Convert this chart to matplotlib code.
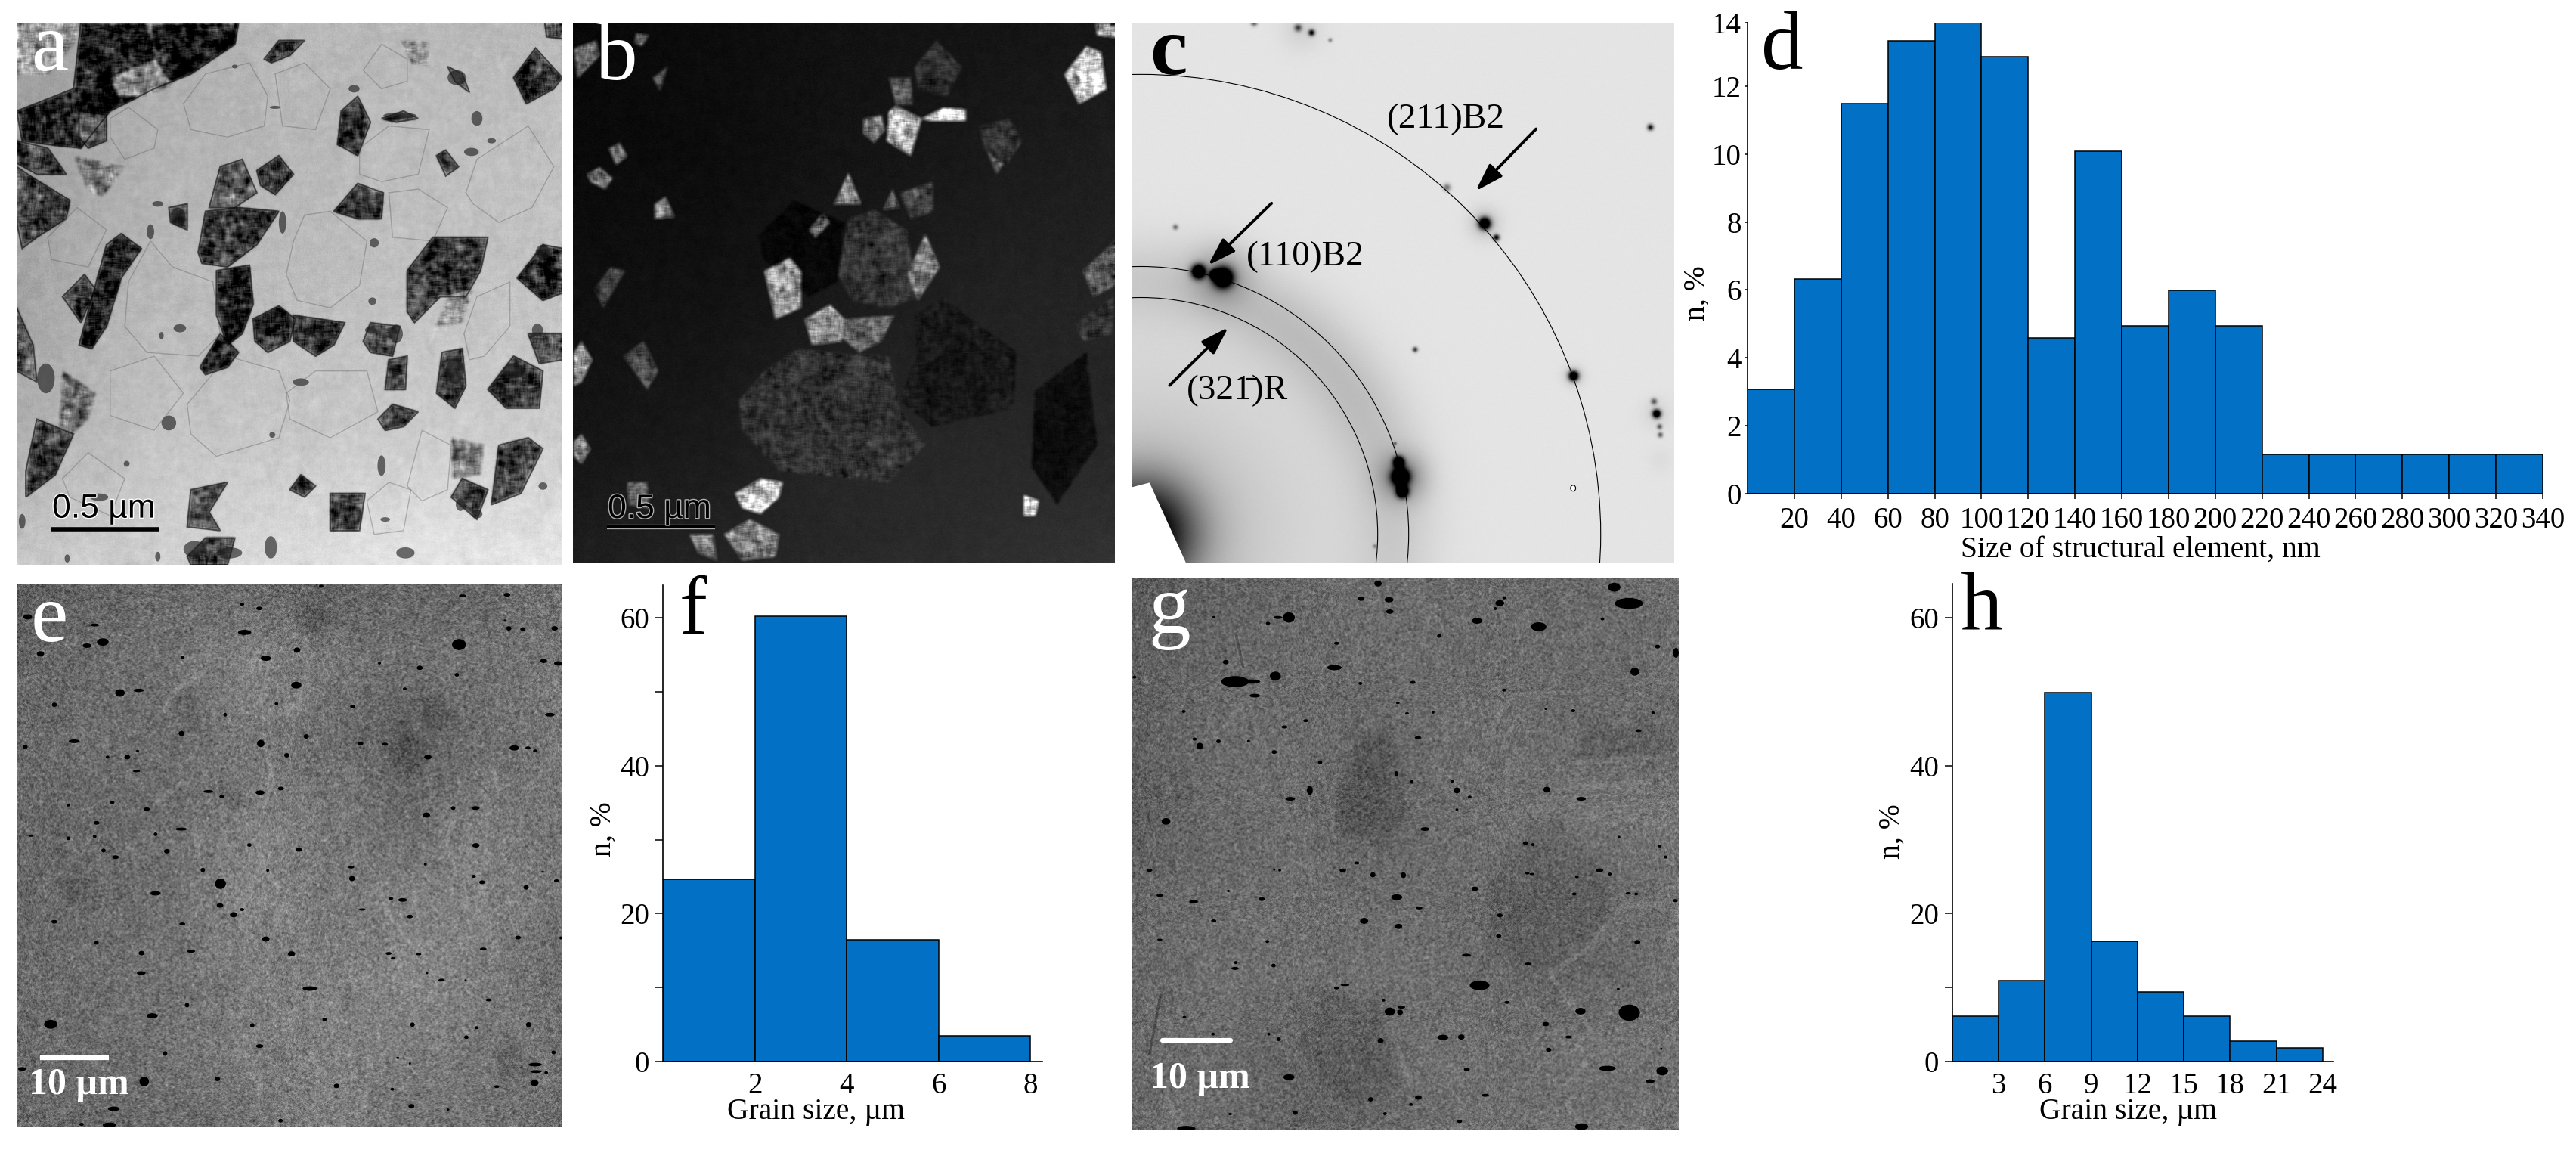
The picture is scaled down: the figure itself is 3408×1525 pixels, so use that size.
import numpy as np
import matplotlib
matplotlib.use("Agg")
import matplotlib.pyplot as plt
from matplotlib.path import Path
from matplotlib.patches import Ellipse
import matplotlib.patheffects as pe

# ---------- histogram data ----------
D_EDGES = [0, 20, 40, 60, 80, 100, 120, 140, 160, 180, 200, 220, 240, 260, 280, 300, 320, 340]
D_VALUES = [3.07, 6.32, 11.48, 13.33, 13.87, 12.86, 4.58, 10.09, 4.94, 5.98, 4.94,
            1.15, 1.15, 1.15, 1.15, 1.15, 1.15]
D_TICK_LABELS = ["20", "40", "60", "80", "100", "120", "140", "160", "180", "200",
                 "220", "240", "260", "280", "300", "320", "340"]
F_EDGES = [0, 2, 4, 6, 8]
F_VALUES = [24.6, 60.2, 16.5, 3.5]
H_EDGES = [0, 3, 6, 9, 12, 15, 18, 21, 24]
H_VALUES = [6.1, 10.9, 49.9, 16.3, 9.4, 6.1, 2.8, 1.85]
BAR_COLOR = "#0270C4"

# ---------- micrograph sketches (grey levels and outlines) ----------
A_BASE = [[.62, .66, .72, .72, .72], [.62, .70, .72, .74, .76], [.64, .72, .74, .76, .76],
          [.68, .76, .78, .80, .80], [.78, .82, .86, .90, .90]]
A_GRAINS = [
    ([(220, 62), (650, 62), (640, 120), (520, 200), (420, 240), (300, 300), (220, 400), (130, 390), (60, 380), (45, 300), (200, 240)], .10),
    ([(45, 62), (220, 62), (200, 120), (130, 200), (45, 200)], .60),
    ([(300, 210), (420, 160), (470, 230), (400, 260), (320, 260)], .55),
    ([(1400, 210), (1460, 130), (1533, 210), (1510, 240), (1435, 280)], .20),
    ([(1485, 62), (1533, 62), (1533, 105), (1490, 100)], .25),
    ([(720, 160), (760, 110), (830, 110), (790, 150), (740, 170)], .22),
    ([(930, 300), (975, 260), (1010, 330), (975, 420), (920, 390)], .20),
    ([(700, 460), (760, 420), (800, 470), (750, 525), (710, 500)], .20),
    ([(910, 570), (975, 495), (1045, 520), (1040, 590), (975, 590)], .20),
    ([(1190, 420), (1215, 405), (1250, 450), (1215, 475)], .25),
    ([(540, 680), (560, 570), (650, 560), (760, 570), (700, 660), (620, 720), (550, 710)], .22),
    ([(570, 560), (600, 450), (660, 430), (700, 520), (640, 560)], .38),
    ([(590, 730), (680, 715), (690, 820), (660, 900), (620, 930), (590, 850)], .10),
    ([(560, 1010), (545, 990), (600, 900), (650, 950), (620, 990)], .20),
    ([(690, 860), (760, 825), (805, 860), (790, 920), (730, 950), (695, 920)], .15),
    ([(800, 850), (940, 870), (910, 930), (860, 960), (800, 920)], .20),
    ([(215, 930), (290, 660), (330, 630), (385, 670), (330, 750), (290, 880), (250, 940)], .10),
    ([(170, 800), (230, 740), (260, 780), (220, 870)], .25),
    ([(1110, 840), (1110, 730), (1180, 640), (1330, 640), (1310, 730), (1270, 800), (1200, 800), (1130, 870)], .25),
    ([(1180, 900), (1220, 800), (1290, 780), (1260, 870), (1200, 880)], .62),
    ([(1410, 750), (1480, 660), (1533, 670), (1533, 790), (1480, 810)], .12),
    ([(1190, 1060), (1205, 950), (1260, 940), (1270, 1040), (1240, 1100)], .20),
    ([(1050, 1050), (1060, 970), (1110, 960), (1105, 1050)], .25),
    ([(990, 920), (1010, 870), (1090, 880), (1070, 960), (1010, 950)], .32),
    ([(1030, 1130), (1070, 1090), (1140, 1110), (1100, 1150), (1050, 1160)], .25),
    ([(1340, 1360), (1360, 1200), (1440, 1180), (1480, 1210), (1420, 1330)], .28),
    ([(1330, 1050), (1400, 960), (1480, 1000), (1470, 1100), (1380, 1100)], .20),
    ([(1440, 900), (1533, 900), (1533, 970), (1470, 980)], .28),
    ([(900, 1330), (995, 1330), (980, 1430), (900, 1430)], .25),
    ([(70, 1340), (70, 1270), (100, 1130), (200, 1170), (150, 1280)], .20),
    ([(160, 1150), (170, 1000), (260, 1060), (240, 1130), (200, 1170)], .45),
    ([(790, 1320), (820, 1280), (860, 1310), (830, 1340)], .20),
    ([(510, 1420), (520, 1320), (620, 1300), (570, 1380), (600, 1430)], .30),
    ([(45, 600), (45, 450), (90, 480), (190, 540), (180, 590), (100, 640), (60, 670)], .25),
    ([(45, 440), (45, 380), (130, 400), (180, 470), (100, 470)], .30),
    ([(200, 420), (340, 450), (280, 530), (235, 510)], .48),
    ([(215, 300), (290, 310), (290, 380), (240, 400), (215, 370)], .32),
    ([(1095, 110), (1170, 110), (1170, 180), (1120, 170)], .55),
    ([(1220, 180), (1260, 200), (1280, 250), (1240, 220)], .28),
    ([(1040, 320), (1100, 300), (1140, 320), (1080, 330)], .25),
    ([(1230, 1180), (1320, 1200), (1310, 1280), (1235, 1290)], .48),
    ([(45, 1000), (45, 830), (90, 930), (100, 1030)], .32),
    ([(510, 1500), (560, 1450), (640, 1450), (620, 1522), (520, 1522)], .25),
    ([(1230, 1340), (1260, 1290), (1330, 1320), (1300, 1400)], .28),
    ([(460, 560), (510, 550), (510, 620), (465, 600)], .25),
]
A_OUTLINES = [
    [(500, 280), (560, 200), (680, 170), (730, 260), (720, 340), (620, 370), (520, 350), (500, 280)],
    [(800, 650), (830, 580), (900, 570), (1000, 650), (980, 770), (900, 830), (810, 810), (780, 740), (800, 650)],
    [(510, 1090), (620, 960), (760, 1000), (790, 1080), (760, 1180), (590, 1230), (520, 1170), (510, 1090)],
    [(1270, 520), (1300, 430), (1440, 340), (1510, 450), (1450, 560), (1360, 600), (1290, 550), (1270, 520)],
    [(300, 320), (350, 290), (430, 350), (420, 400), (340, 430), (300, 370), (300, 320)],
    [(990, 190), (1040, 120), (1110, 160), (1110, 220), (1040, 240), (990, 190)],
    [(350, 760), (410, 650), (470, 720), (580, 760), (600, 900), (540, 960), (400, 950), (340, 880), (350, 760)],
    [(1110, 1310), (1150, 1160), (1230, 1200), (1220, 1320), (1150, 1350), (1110, 1310)],
    [(1265, 900), (1300, 800), (1390, 760), (1390, 880), (1320, 960), (1280, 970), (1265, 900)],
    [(780, 1060), (860, 1000), (1000, 1000), (1030, 1110), (900, 1180), (790, 1130), (780, 1060)],
    [(170, 1290), (240, 1220), (340, 1290), (300, 1390), (190, 1340), (170, 1290)],
    [(750, 200), (830, 170), (900, 240), (860, 350), (770, 340), (750, 200)],
    [(980, 400), (1060, 340), (1170, 350), (1140, 470), (1040, 490), (980, 470), (980, 400)],
    [(1060, 520), (1140, 510), (1220, 560), (1180, 650), (1070, 640), (1060, 520)],
    [(1060, 1300), (1120, 1320), (1100, 1430), (1020, 1440), (1000, 1350), (1060, 1300)],
    [(300, 1000), (420, 960), (500, 1060), (420, 1160), (300, 1120), (300, 1000)],
    [(130, 640), (210, 560), (290, 620), (240, 720), (140, 700), (130, 640)],
]
A_SPECKS = [(1300, 320, 30, 40), (1285, 410, 40, 22), (1245, 210, 50, 40), (1090, 312, 90, 16), (750, 290, 30, 8),
    (1020, 655, 25, 25), (1480, 680, 40, 40), (820, 1030, 44, 20), (345, 1250, 16, 16), (485, 585, 40, 50),
    (430, 550, 30, 15), (410, 625, 20, 40), (490, 885, 34, 22), (440, 905, 12, 20), (1040, 1255, 22, 55),
    (1300, 1385, 30, 24), (1255, 1360, 25, 34), (738, 1475, 34, 60), (1105, 1490, 50, 30), (625, 1490, 70, 30),
    (530, 1480, 60, 44), (460, 1140, 40, 40), (742, 1172, 16, 16), (1015, 812, 22, 20), (60, 1405, 18, 40),
    (183, 1505, 14, 22), (1080, 900, 36, 50), (1010, 890, 30, 20), (1240, 1000, 50, 70), (125, 1020, 48, 80),
    (640, 180, 16, 10), (965, 240, 30, 20), (1340, 380, 24, 14), (770, 600, 20, 60), (1050, 1400, 26, 12),
    (270, 1340, 50, 20), (1480, 1310, 24, 20), (430, 1500, 14, 26), (1400, 1000, 60, 40), (1465, 890, 30, 34)]

B_BASE = [[.03, .05, .07, .08, .09], [.04, .05, .08, .10, .12], [.06, .07, .10, .13, .14],
          [.08, .10, .15, .15, .15], [.12, .14, .16, .18, .20]]
B_GRAINS = [
    ([(490, 1080), (560, 1000), (650, 940), (740, 950), (900, 960), (930, 1100), (1000, 1200), (900, 1300), (600, 1270), (500, 1160)], .19),
    ([(760, 740), (790, 590), (860, 565), (950, 620), (980, 800), (900, 830), (800, 810)], .20),
    ([(540, 640), (640, 540), (780, 600), (760, 760), (680, 800), (560, 700)], .03),
    ([(970, 850), (1050, 800), (1110, 850), (1250, 950), (1240, 1100), (1020, 1150), (930, 1080), (980, 950)], .09),
    ([(1300, 1050), (1440, 950), (1470, 1200), (1360, 1360), (1290, 1260)], .05),
    ([(1380, 200), (1440, 125), (1480, 140), (1495, 240), (1420, 280)], .78),
    ([(1465, 62), (1517, 62), (1517, 100), (1470, 95)], .70),
    ([(900, 300), (920, 285), (990, 320), (960, 420), (895, 380)], .70),
    ([(990, 320), (1050, 290), (1110, 295), (1110, 325), (1010, 325)], .85),
    ([(830, 320), (880, 310), (890, 350), (860, 385), (830, 360)], .42),
    ([(900, 210), (960, 210), (965, 280), (920, 285)], .30),
    ([(750, 550), (790, 465), (825, 550)], .50),
    ([(260, 550), (290, 530), (315, 585), (260, 590)], .50),
    ([(680, 620), (720, 575), (740, 600), (700, 640)], .45),
    ([(885, 565), (910, 510), (930, 560)], .40),
    ([(930, 520), (1020, 490), (1020, 570), (960, 590)], .25),
    ([(560, 730), (630, 695), (660, 730), (660, 830), (590, 860)], .60),
    ([(670, 860), (740, 820), (780, 860), (770, 920), (690, 930)], .55),
    ([(780, 860), (915, 850), (880, 920), (820, 950), (770, 910)], .40),
    ([(950, 740), (1000, 630), (1040, 720), (980, 810)], .45),
    ([(480, 1330), (550, 1290), (610, 1300), (600, 1340), (550, 1385), (500, 1370)], .80),
    ([(1270, 1335), (1310, 1350), (1300, 1390), (1270, 1390)], .97),
    ([(450, 1440), (520, 1400), (600, 1440), (590, 1500), (500, 1510)], .55),
    ([(355, 1440), (420, 1440), (430, 1510), (380, 1490)], .50),
    ([(40, 950), (60, 920), (90, 970), (60, 1030), (40, 1040)], .60),
    ([(40, 1190), (60, 1170), (85, 1210), (60, 1250), (40, 1230)], .55),
    ([(40, 130), (100, 110), (110, 150), (50, 210)], .42),
    ([(75, 470), (110, 450), (145, 480), (125, 510), (85, 490)], .45),
    ([(135, 400), (165, 385), (185, 420), (155, 445)], .50),
    ([(1170, 410), (1220, 430), (1195, 470)], .40),
    ([(175, 960), (230, 920), (270, 1000), (240, 1050)], .32),
    ([(1430, 730), (1517, 650), (1517, 770), (1460, 800)], .36),
    ([(95, 780), (140, 720), (180, 730), (120, 830)], .24),
    ([(185, 1300), (240, 1300), (245, 1370), (190, 1360)], .40),
    ([(970, 180), (1030, 110), (1100, 180), (1060, 260), (980, 240)], .18),
    ([(1150, 340), (1230, 320), (1265, 380), (1220, 450), (1160, 400)], .20),
    ([(210, 90), (245, 95), (225, 125), (205, 115)], .38),
    ([(255, 210), (295, 180), (275, 245)], .32),
    ([(1410, 870), (1470, 830), (1517, 800), (1510, 900), (1430, 920)], .20),
]

E_BASE = [[.37, .40, .41, .41, .37, .41, .41, .45],
          [.39, .42, .45, .51, .47, .43, .45, .47],
          [.41, .43, .42, .47, .43, .37, .43, .47],
          [.40, .41, .43, .49, .47, .41, .49, .45],
          [.41, .42, .44, .53, .47, .49, .51, .45],
          [.42, .43, .45, .49, .49, .53, .49, .43],
          [.42, .43, .45, .49, .51, .49, .47, .45],
          [.41, .41, .43, .45, .51, .45, .45, .41]]
E_SHADES = [
    ([(1060, 470), (1110, 420), (1180, 470), (1130, 540), (1080, 530)], -.06),
    ([(580, 580), (640, 550), (700, 620), (620, 640)], -.05),
    ([(170, 830), (240, 820), (250, 880), (170, 880)], -.05),
    ([(1340, 1300), (1390, 1240), (1450, 1340), (1380, 1390)], -.06),
    ([(830, 80), (910, 100), (870, 170), (810, 130)], -.06),
    ([(1130, 350), (1190, 330), (1270, 400), (1170, 430)], -.05),
    ([(470, 320), (530, 320), (560, 400), (480, 400)], -.05),
    ([(950, 1130), (990, 1120), (980, 1170), (920, 1160)], -.05),
]
E_STREAKS = [
    [(720, 300), (820, 300), (815, 350), (760, 380), (710, 350), (720, 300)],
    [(730, 480), (740, 560), (720, 630)], [(700, 720), (720, 800), (760, 850)],
    [(1240, 810), (1220, 720), (1240, 660)], [(1340, 520), (1360, 580)],
    [(450, 370), (470, 320), (560, 260)], [(430, 620), (500, 560)],
    [(850, 1130), (850, 1180)], [(760, 900), (750, 960)], [(710, 1350), (710, 1420)],
    [(850, 1300), (870, 1350)], [(1040, 860), (1060, 920), (1120, 1000), (1180, 1000)],
    [(1000, 1400), (990, 1450)], [(530, 680), (540, 760)], [(1200, 1100), (1170, 1150)],
]
E_PORES = [(280, 183, 32, 20), (667, 157, 36, 14), (1252, 190, 38, 30), (327, 321, 26, 20), (378, 314, 28, 9),
    (808, 300, 28, 18), (148, 353, 14, 12), (237, 193, 24, 12), (258, 137, 24, 8), (110, 215, 20, 14),
    (75, 115, 24, 14), (711, 458, 20, 20), (202, 452, 30, 10), (68, 467, 14, 12), (495, 431, 16, 14),
    (347, 495, 16, 12), (372, 533, 20, 6), (568, 588, 26, 8), (709, 591, 24, 12), (766, 580, 16, 10),
    (400, 636, 16, 10), (263, 673, 16, 10), (494, 690, 32, 8), (186, 715, 10, 10), (282, 748, 12, 10),
    (315, 766, 18, 10), (455, 750, 16, 12), (680, 733, 12, 10), (815, 746, 18, 10), (553, 801, 12, 12),
    (601, 838, 30, 28), (424, 864, 28, 12), (600, 897, 18, 12), (637, 922, 20, 14), (660, 908, 12, 8),
    (148, 941, 16, 10), (497, 947, 16, 8), (725, 988, 20, 14), (263, 998, 12, 10), (521, 1021, 22, 8),
    (386, 1026, 16, 12), (795, 1028, 20, 14), (385, 1080, 24, 10), (845, 1122, 40, 12), (510, 1167, 12, 12),
    (415, 1196, 30, 14), (138, 1219, 36, 24), (688, 1222, 12, 12), (708, 1278, 20, 10), (450, 1298, 12, 12),
    (393, 1374, 26, 26), (593, 1367, 14, 12), (310, 1448, 32, 12), (298, 1492, 36, 14), (918, 1386, 16, 12),
    (1122, 1441, 16, 12), (1458, 1378, 22, 16), (1460, 1328, 36, 10), (1462, 1347, 30, 8), (1442, 1220, 14, 14),
    (1272, 1254, 12, 10), (1125, 1220, 12, 12), (885, 1206, 12, 10), (1205, 1099, 16, 8), (1333, 1153, 16, 8),
    (1118, 927, 16, 10), (1098, 882, 24, 10), (1066, 878, 12, 8), (960, 824, 16, 14), (958, 793, 16, 8),
    (1163, 652, 20, 14), (1298, 734, 20, 12), (1297, 633, 22, 10), (1236, 633, 12, 10), (1167, 495, 20, 12),
    (983, 458, 16, 10), (1050, 460, 16, 8), (835, 439, 14, 12), (782, 490, 14, 12), (1403, 470, 26, 14),
    (1500, 380, 26, 10), (1483, 234, 18, 12), (1523, 241, 24, 12), (1145, 253, 16, 12), (1513, 146, 18, 12),
    (1426, 148, 14, 10), (1388, 146, 14, 12), (1383, 55, 18, 10), (1262, 58, 20, 8), (1315, 834, 16, 10),
    (1435, 848, 14, 12), (1413, 984, 16, 10), (1292, 818, 12, 8), (1318, 1015, 18, 8), (1142, 1029, 14, 6),
    (725, 227, 28, 14), (810, 205, 18, 14), (498, 225, 10, 8), (962, 358, 14, 10), (754, 350, 10, 8),
    (614, 380, 10, 10), (1104, 310, 10, 8), (876, 32, 12, 8), (660, 81, 12, 8), (707, 92, 16, 10),
    (1035, 240, 8, 8), (1246, 272, 12, 10), (1440, 470, 14, 8), (1460, 478, 12, 8), (1378, 125, 8, 6),
    (1060, 1027, 16, 8), (1072, 1040, 12, 6), (1355, 1388, 14, 8), (1510, 1295, 12, 10), (1490, 1350, 10, 8),
    (1300, 1228, 10, 8), (1160, 785, 8, 8), (730, 802, 8, 8), (1200, 1100, 10, 6), (988, 908, 18, 6),
    (1222, 1450, 8, 6), (60, 1340, 22, 10), (222, 1490, 12, 8), (765, 1480, 12, 10), (186, 625, 10, 8),
    (306, 618, 12, 8), (84, 708, 14, 6), (258, 710, 10, 8), (293, 495, 10, 8), (375, 478, 8, 6),
    (424, 704, 10, 10), (605, 602, 14, 8), (1070, 1395, 10, 8), (1085, 1310, 8, 6), (1118, 1325, 6, 6),
    (1165, 1080, 6, 6), (1270, 1100, 6, 6), (1530, 985, 8, 8), (1518, 830, 14, 8), (1480, 806, 10, 4)]

G_BASE = [[.34, .38, .40, .43, .42, .42, .42, .42],
          [.38, .40, .42, .42, .42, .42, .42, .44],
          [.36, .42, .42, .39, .43, .43, .41, .42],
          [.36, .40, .43, .37, .42, .44, .46, .46],
          [.40, .42, .43, .42, .42, .40, .40, .44],
          [.41, .43, .43, .44, .43, .40, .40, .44],
          [.42, .43, .40, .40, .44, .43, .45, .44],
          [.42, .43, .39, .40, .44, .44, .44, .44]]
G_SHADES = [
    ([(650, 450), (730, 430), (760, 480), (750, 560), (800, 640), (720, 750), (600, 700), (590, 600), (640, 520)], -.05),
    ([(1100, 680), (1210, 660), (1330, 850), (1340, 930), (1260, 1010), (1170, 1090), (1020, 1050), (1000, 880), (1070, 770)], -.035),
    ([(540, 1130), (700, 1170), (750, 1290), (760, 1420), (620, 1450), (530, 1350), (500, 1270)], -.04),
    ([(1220, 490), (1300, 430), (1510, 420), (1510, 500), (1290, 515)], -.04),
]
G_STREAKS = [
    [(320, 170), (340, 260)], [(290, 420), (350, 340)], [(850, 100), (830, 200)],
    [(1010, 440), (1060, 350)], [(1180, 1090), (1290, 1020), (1370, 910), (1510, 900)],
    [(1060, 520), (1060, 620)], [(590, 560), (580, 700)], [(750, 1260), (800, 1400)],
    [(1220, 1440), (1260, 1500)], [(1220, 1400), (1290, 1310)], [(1250, 520), (1510, 500)],
    [(1180, 1100), (1300, 1260)], [(130, 1430), (170, 1500)], [(1220, 590), (1450, 570)],
]
G_DARK_LINES = [[(115, 1150), (85, 1310)], [(320, 170), (340, 260)]]
G_PORES = [(318, 300, 76, 30), (362, 300, 50, 12), (465, 126, 32, 28), (428, 285, 30, 24), (372, 338, 28, 10),
    (589, 262, 40, 14), (708, 34, 20, 16), (738, 78, 24, 14), (740, 110, 20, 12), (662, 75, 18, 12),
    (978, 135, 28, 16), (1040, 87, 24, 16), (1146, 151, 42, 24), (1352, 44, 34, 24), (1392, 88, 76, 30),
    (1408, 273, 24, 22), (1520, 222, 16, 26), (1470, 205, 14, 10), (222, 475, 18, 18), (130, 679, 24, 18),
    (469, 618, 26, 10), (522, 595, 16, 24), (550, 519, 12, 10), (425, 491, 14, 10), (453, 423, 16, 8),
    (511, 406, 14, 8), (273, 462, 12, 10), (836, 700, 24, 10), (923, 595, 18, 16), (1168, 593, 18, 16),
    (1262, 618, 26, 10), (800, 572, 10, 10), (1312, 812, 20, 10), (777, 825, 14, 16), (694, 824, 14, 14),
    (612, 812, 18, 10), (759, 885, 30, 16), (670, 949, 22, 16), (764, 964, 20, 14), (972, 862, 18, 12),
    (1040, 934, 16, 10), (1037, 990, 14, 10), (949, 1042, 24, 8), (985, 1124, 54, 26), (1117, 1066, 20, 8),
    (1260, 1194, 28, 18), (1393, 1198, 58, 44), (1165, 1229, 18, 12), (1173, 1299, 14, 12), (1228, 1264, 18, 8),
    (1333, 1349, 46, 14), (1483, 1356, 32, 24), (1450, 1384, 24, 10), (1415, 1007, 16, 12), (1418, 433, 16, 8),
    (1240, 379, 12, 8), (885, 1265, 30, 14), (935, 1264, 18, 14), (740, 1195, 28, 22), (768, 1197, 16, 14),
    (772, 1183, 20, 8), (465, 1373, 30, 16), (950, 1352, 16, 10), (818, 1428, 18, 12), (688, 1433, 14, 12),
    (482, 1469, 14, 12), (185, 1512, 50, 14), (1263, 1507, 36, 18), (930, 1493, 14, 8), (1000, 1422, 20, 8),
    (318, 1078, 20, 8), (320, 1062, 10, 8), (423, 1070, 12, 10), (391, 890, 18, 10), (205, 897, 24, 10),
    (113, 880, 18, 8), (85, 812, 16, 8), (260, 949, 14, 8), (660, 305, 10, 8), (803, 302, 14, 8),
    (875, 176, 12, 10), (595, 196, 14, 8), (293, 247, 16, 12), (1052, 323, 12, 8), (817, 452, 18, 8),
    (1476, 746, 10, 8), (1492, 776, 10, 8), (1110, 738, 14, 10), (1115, 820, 12, 6), (1243, 876, 12, 8),
    (1412, 876, 10, 8), (1518, 894, 14, 8), (1060, 1170, 14, 8), (1250, 830, 10, 6), (435, 126, 24, 8),
    (408, 142, 12, 8), (44, 288, 10, 8), (208, 456, 12, 8), (178, 381, 10, 8), (355, 461, 8, 6),
    (260, 125, 8, 6), (1028, 102, 8, 8), (1052, 73, 10, 8), (1320, 130, 10, 8), (1165, 374, 6, 6),
    (1458, 385, 10, 8), (858, 383, 8, 8), (787, 386, 10, 6), (762, 358, 10, 6), (758, 550, 10, 14),
    (958, 613, 10, 8), (923, 647, 8, 6), (910, 570, 10, 8), (1130, 742, 8, 8), (1128, 822, 14, 6),
    (650, 792, 14, 8), (820, 914, 18, 8), (440, 812, 8, 6), (425, 810, 6, 6), (300, 868, 8, 6),
    (406, 1005, 10, 8), (113, 1000, 14, 6), (595, 1131, 14, 8), (618, 1123, 24, 6), (723, 1164, 10, 8),
    (1363, 1134, 8, 6), (410, 1256, 8, 8), (437, 1270, 12, 10), (258, 1256, 10, 8), (180, 1210, 10, 6),
    (715, 1274, 16, 14), (798, 1447, 10, 8), (727, 1472, 10, 8), (305, 1473, 10, 6), (1480, 1296, 6, 6),
    (1365, 722, 8, 8), (1390, 874, 14, 6), (1340, 822, 10, 8)]

C_SPOTS = [(218, 732, 13, .95), (285, 748, 18, .98), (262, 740, 8, .9), (1000, 602, 11, .95), (1243, 1013, 9, .9),
    (770, 1285, 16, .98), (775, 1325, 11, .95), (765, 1245, 10, .9), (1470, 1115, 8, .85), (1453, 343, 6, .55),
    (1032, 640, 6, .6), (897, 505, 7, .3), (810, 942, 5, .45), (155, 612, 5, .3), (490, 75, 7, .4),
    (527, 88, 6, .6), (578, 108, 4, .25), (1463, 1082, 6, .35), (1478, 1150, 5, .35), (1480, 1172, 5, .35),
    (370, 62, 6, .35), (700, 1472, 4, .2), (755, 1195, 3, .3)]
C_HALOS = [(280, 745, 55, .22), (1000, 602, 30, .14), (775, 1285, 45, .30), (1243, 1013, 20, .12),
           (500, 80, 40, .07), (1470, 1115, 30, .06), (1480, 1240, 25, .03)]
C_BEAM_STOP = [(38, 1312), (85, 1300), (185, 1517), (38, 1517)]
C_RINGS = [608, 354, 313]
C_ARROWS = [((1140, 348), (975, 515)), ((418, 548), (245, 715)), ((140, 1038), (300, 882))]

W, H = 3408, 1525
plt.rcParams["font.family"] = ["Liberation Serif", "DejaVu Serif"]
fig = plt.figure(figsize=(W / 100, H / 100), dpi=100, facecolor="white")


def frame(l, t, r, b):
    return [l / W, 1 - b / H, (r - l) / W, (b - t) / H]


def blur(a, r):
    p = np.pad(a, r + 1, mode="edge")
    k = 2 * r + 1
    c = np.cumsum(p, axis=0)
    p = (c[k:, :] - c[:-k, :]) / k
    c = np.cumsum(p, axis=1)
    p = (c[:, k:] - c[:, :-k]) / k
    return p[:a.shape[0], :a.shape[1]]


def hash_grain(w, h, s):
    j, i = np.mgrid[0:h, 0:w]
    v = np.sin(i * 12.9898 + j * 78.233 + s) * 43758.5453
    return v - np.floor(v) - .5


def upscale(m, w, h):
    m = np.array(m, float)
    ys = np.linspace(0, m.shape[0] - 1, h)
    xs = np.linspace(0, m.shape[1] - 1, w)
    tmp = np.array([np.interp(xs, np.arange(m.shape[1]), row) for row in m])
    return np.array([np.interp(ys, np.arange(m.shape[0]), col) for col in tmp.T]).T


def raster(ext, w, h, base, polys, add=False):
    zl, zr, zt, zb = ext
    xs = np.linspace(zl, zr, w)
    ys = np.linspace(zt, zb, h)
    X, Y = np.meshgrid(xs, ys)
    pts = np.c_[X.ravel(), Y.ravel()]
    f = upscale(base, w, h)
    touched = np.zeros((h, w))
    for pg, val in polys:
        mask = Path(pg).contains_points(pts).reshape(h, w)
        if add:
            f = f + mask * val
        else:
            f[mask] = val
            touched[mask] = 1
    return f, touched


def panel(box, ext, img):
    ax = fig.add_axes(frame(*box))
    ax.imshow(img, cmap="gray", vmin=0, vmax=1, extent=(ext[0], ext[1], ext[3], ext[2]),
              aspect="auto", interpolation="bilinear")
    ax.set_xlim(ext[0], ext[1])
    ax.set_ylim(ext[3], ext[2])
    ax.axis("off")
    return ax


def draw_pores(ax, pores):
    for x, y, pw, ph in pores:
        ax.add_patch(Ellipse((x, y), pw, ph, fc="black", ec="none", zorder=3))


def mottle(w, h, s):
    return blur(hash_grain(w, h, s), 3) * 6 + blur(hash_grain(w, h, s + 1.7), 7) * 13


def letter(x, y, s, color="black", weight="normal"):
    fig.text(x / W, 1 - y / H, s, color=color, fontsize=80, fontweight=weight, va="baseline", ha="left", zorder=10)


# ---- a ----
box_a, ext_a = (22, 30, 744, 747), (45, 1533, 62, 1522)
img, t = raster(ext_a, 720, 715, A_BASE, A_GRAINS)
img = blur(img, 2) + mottle(720, 715, 1.3) * (.035 + .30 * blur(t, 2)) + .045 * hash_grain(720, 715, 2.1)
ax = panel(box_a, ext_a, np.clip(img, 0, 1))
for ol in A_OUTLINES:
    ax.plot(*zip(*ol), color="#555555", lw=1.0, alpha=.35)
for pg, val in A_GRAINS:
    if val < .4:
        ax.fill(*zip(*pg), fill=False, ec="black", lw=1.4, alpha=.55)
for x, y, pw, ph in A_SPECKS:
    ax.add_patch(Ellipse((x, y), pw, ph, fc="#1c1c1c", ec="none", alpha=.62))
ax.plot([138, 433], [1426, 1426], color="black", lw=4, solid_capstyle="butt")
ax.text(142, 1395, "0.5 \u00b5m", family="Liberation Sans", fontsize=32, color="black", va="baseline",
        path_effects=[pe.withStroke(linewidth=2, foreground="white")])

# ---- b ----
box_b, ext_b = (758, 30, 1475, 745), (38, 1517, 62, 1517)
img, t = raster(ext_b, 715, 715, B_BASE, B_GRAINS)
s = blur(img, 2)
img = s + mottle(715, 715, 4.7) * (.012 + .6 * blur(t, 1) * s) + .028 * hash_grain(715, 715, 5.9)
ax = panel(box_b, ext_b, np.clip(img, 0, 1))
ax.plot([130, 425], [1420, 1420], color="black", lw=3, solid_capstyle="butt",
        path_effects=[pe.withStroke(linewidth=4.5, foreground="#b8b8b8")])
ax.text(133, 1395, "0.5 \u00b5m", family="Liberation Sans", fontsize=32, color="black", va="baseline",
        path_effects=[pe.withStroke(linewidth=2, foreground="#b0b0b0")])

# ---- c ----
box_c, ext_c = (1498, 30, 2215, 745), (38, 1517, 62, 1517)
nc = 715
xs = np.linspace(38, 1517, nc)
ys = np.linspace(62, 1517, nc)
X, Y = np.meshgrid(xs, ys)
cx, cy, sx, sy = 62, 1439, 2.063, 2.036
R = np.hypot((X - cx) / sx, (Y - cy) / sy)
ang = np.clip(1.15 - np.abs(np.arctan2((cy - Y) / sy, (X - cx) / sx) - np.pi / 4) / 1.6, .35, 1)
img = .895 - .06 * np.exp(-(R / 330) ** 4) - .14 * ang * np.exp(-((R - 335) / 55) ** 2) \
    - .75 * np.exp(-((R - 10) / 62) ** 2) - .18 * np.exp(-(R / 130) ** 2)
for x, y, s, a in C_HALOS:
    img -= a * np.exp(-((X - x) ** 2 + (Y - y) ** 2) / (2 * s ** 2))
for x, y, s, a in C_SPOTS:
    img -= 1.5 * a * np.exp(-((X - x) ** 2 + (Y - y) ** 2) / (2 * s ** 2))
img += .014 * hash_grain(nc, nc, 7.7)
ax = panel(box_c, ext_c, np.clip(img, 0, 1))
ax.fill(*zip(*C_BEAM_STOP), color="white", lw=0, zorder=2)
for r in C_RINGS:
    ax.add_patch(Ellipse((cx, cy), 2 * r * sx, 2 * r * sy, fill=False, ec="black", lw=.8, zorder=3))
ax.add_patch(Ellipse((1241, 1315), 14, 16, fc="white", ec="black", lw=.8, zorder=3))
for tail, head in C_ARROWS:
    ax.annotate("", xy=head, xytext=tail, zorder=4,
                arrowprops=dict(arrowstyle="-|>,head_length=1.25,head_width=.4", color="black", lw=2.8,
                                shrinkA=0, shrinkB=0, mutation_scale=18))
ax.text(733, 345, "(211)B2", fontsize=34, va="baseline")
ax.text(350, 715, "(110)B2", fontsize=34, va="baseline")
ax.text(187, 1075, "(321\u0304)R", fontsize=34, va="baseline")

# ---- e ----
box_e, ext_e = (22, 772, 744, 1491), (45, 1534, 25, 1498)
img, _ = raster(ext_e, 720, 720, E_BASE, E_SHADES, add=True)
img = blur(img, 6) + .5 * hash_grain(720, 720, 3.3) + mottle(720, 720, 12.1) * .035
img = blur(img, 1) + .15 * hash_grain(720, 720, 8.8)
ax = panel(box_e, ext_e, np.clip(img, 0, 1))
for st in E_STREAKS:
    ax.plot(*zip(*st), color="white", lw=5, alpha=.10, solid_capstyle="round")
draw_pores(ax, E_PORES)
ax.plot([108, 296], [1309, 1309], color="white", lw=4.5, solid_capstyle="butt", zorder=4)
ax.text(78, 1408, "10 \u00b5m", fontsize=36, fontweight="bold", color="white", va="baseline", zorder=5)

# ---- g ----
box_g, ext_g = (1498, 764, 2221, 1494), (38, 1528, 18, 1515)
img, _ = raster(ext_g, 720, 725, G_BASE, G_SHADES, add=True)
img = blur(img, 6) + .45 * hash_grain(720, 725, 9.1) + mottle(720, 725, 14.3) * .02
img = blur(img, 1) + .13 * hash_grain(720, 725, 6.6)
ax = panel(box_g, ext_g, np.clip(img, 0, 1))
for st in G_STREAKS:
    ax.plot(*zip(*st), color="white", lw=5, alpha=.08, solid_capstyle="round")
for st in G_DARK_LINES:
    ax.plot(*zip(*st), color="black", lw=2.5, alpha=.3)
draw_pores(ax, G_PORES)
ax.plot([120, 305], [1273, 1273], color="white", lw=4.5, solid_capstyle="round", zorder=4)
ax.text(85, 1403, "10 \u00b5m", fontsize=36, fontweight="bold", color="white", va="baseline", zorder=5)


# ---- histograms ----
def hist(box, edges, values, xlim, ylim, xticks, xlabels, yticks, ylabels, xl_pos, yl_pos, xlabel,
         tsize, ticklen, xticklen, ypad, xpad):
    ax = fig.add_axes(frame(*box))
    ax.patch.set_alpha(0)
    e = np.array(edges, float)
    ax.bar(e[:-1], values, width=np.diff(e), align="edge", color=BAR_COLOR, edgecolor="black", linewidth=1.1, zorder=2)
    ax.set_xlim(*xlim)
    ax.set_ylim(*ylim)
    for s in ("top", "right"):
        ax.spines[s].set_visible(False)
    for s in ("left", "bottom"):
        ax.spines[s].set_linewidth(1.2)
    ax.set_xticks(xticks, xlabels)
    ax.set_yticks(yticks, ylabels)
    ax.tick_params(axis="x", length=xticklen, width=1.1, pad=xpad, labelsize=tsize)
    ax.tick_params(axis="y", length=ticklen, width=1.1, pad=ypad, labelsize=tsize)
    ax.set_xlabel(xlabel, fontsize=28.5, va="baseline", ha="center")
    ax.xaxis.set_label_coords(xl_pos[0] / W, 1 - xl_pos[1] / H, transform=fig.transFigure)
    ax.set_ylabel("n, %", fontsize=28.5, va="baseline", ha="center", rotation=90)
    ax.yaxis.set_label_coords(yl_pos[0] / W, 1 - yl_pos[1] / H, transform=fig.transFigure)
    return ax


hist((2312, 30, 3364, 653), D_EDGES, D_VALUES, (0, 340), (0, 13.87),
     D_EDGES[1:], D_TICK_LABELS, [0, 2, 4, 6, 8, 10, 12, 13.87],
     ["0", "2", "4", "6", "8", "10", "12", "14"], (2832, 737), (2255, 388),
     "Size of structural element, nm", 28, 3, 5, 3, 7)
hist((877, 774, 1379, 1404), F_EDGES, F_VALUES, (0, 8.26), (0, 64.4),
     F_EDGES[1:], ["2", "4", "6", "8"], [0, 10, 20, 30, 40, 50, 60], ["0", "", "20", "", "40", "", "60"],
     (1079, 1480), (808, 1097), "Grain size, \u00b5m", 28, 7, 0, 6, 10)
hist((2583, 772, 3087, 1404), H_EDGES, H_VALUES, (0, 24.7), (0, 64.6),
     H_EDGES[1:], ["3", "6", "9", "12", "15", "18", "21", "24"], [0, 10, 20, 40, 60], ["0", "", "20", "40", "60"],
     (2816, 1480), (2513, 1100), "Grain size, \u00b5m", 28, 7, 0, 6, 10)

letter(41, 93, "a", "white")
letter(788, 105, "b", "white")
letter(1521, 98, "c", "black", "bold")
letter(2330, 91, "d")
letter(41, 848, "e", "white")
letter(899, 838, "f")
letter(1519, 837, "g", "white")
letter(2594, 833, "h")

fig.savefig("out.png", dpi=100, facecolor="white")
